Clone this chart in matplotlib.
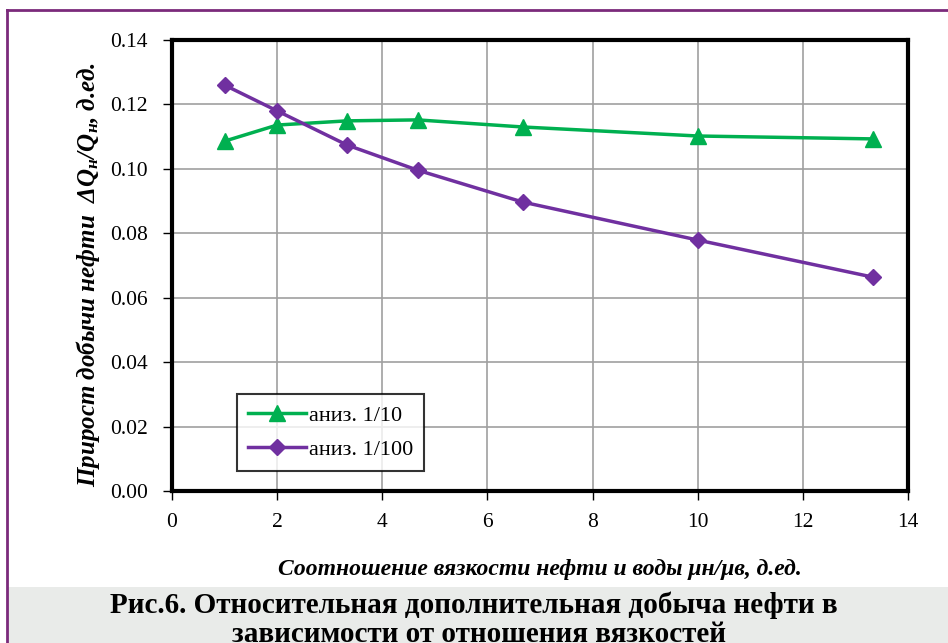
import matplotlib
matplotlib.use("Agg")
import matplotlib.pyplot as plt
from matplotlib.patches import Rectangle
from matplotlib.lines import Line2D

x_vals = [1, 2, 3.33, 4.67, 6.67, 10, 13.33]
aniz_10 = [0.1086, 0.1136, 0.1149, 0.1152, 0.1130, 0.1102, 0.1093]
aniz_100 = [0.1260, 0.1180, 0.1074, 0.0996, 0.0897, 0.0779, 0.0664]
labels = ["аниз. 1/10", "аниз. 1/100"]
x_ticks = [0, 2, 4, 6, 8, 10, 12, 14]
y_ticks = [0.00, 0.02, 0.04, 0.06, 0.08, 0.10, 0.12, 0.14]

plt.rcParams['font.family'] = ['Liberation Serif', 'DejaVu Serif']
plt.rcParams['mathtext.fontset'] = 'custom'
plt.rcParams['mathtext.it'] = 'Liberation Serif:italic:bold'
plt.rcParams['mathtext.rm'] = 'Liberation Serif:bold'
plt.rcParams['mathtext.bf'] = 'Liberation Serif:bold'

W, H = 948, 643
fig = plt.figure(figsize=(W / 100, H / 100), dpi=100)

# background panels
fig.patches.append(Rectangle((8 / W, 0), 1 - 8 / W, (H - 587) / H,
                             transform=fig.transFigure, facecolor='#e9ebe9',
                             edgecolor='none', zorder=0))
fig.lines.append(Line2D([7 / W, 7 / W], [0, 1 - 10 / H], transform=fig.transFigure,
                        color='#7b2a7b', lw=2))
fig.lines.append(Line2D([7 / W, 1], [1 - 10 / H, 1 - 10 / H], transform=fig.transFigure,
                        color='#7b2a7b', lw=2))

ax = fig.add_axes([172 / W, 1 - 491 / H, (908 - 172) / W, (491 - 40) / H])
ax.plot(x_vals, aniz_10, color='#00b050', lw=2.5, marker='^', markersize=11,
        label=labels[0], zorder=3)
ax.plot(x_vals, aniz_100, color='#7030a0', lw=2.5, marker='D', markersize=8,
        label=labels[1], zorder=3)

ax.set_xlim(0, 14)
ax.set_ylim(0, 0.14)
ax.set_xticks(x_ticks)
ax.set_yticks(y_ticks)
ax.set_yticklabels([f"{v:.2f}" for v in y_ticks])
ax.grid(True, color='#a0a0a0', lw=1.2)
ax.set_axisbelow(True)
for s in ax.spines.values():
    s.set_linewidth(3)
    s.set_color('black')
ax.tick_params(axis='both', labelsize=15.5, direction='out', length=6.5, width=1,
               color='black')
ax.tick_params(axis='x', pad=9)
ax.tick_params(axis='y', pad=11)

ax.set_xlabel("Соотношение вязкости нефти и воды μн/μв, д.ед.", fontsize=17,
              style='italic', fontweight='bold', labelpad=20)
ax.set_ylabel("Прирост добычи нефти  ΔQ$_{н}$/Q$_{н}$, д.ед.", fontsize=18,
              style='italic', fontweight='bold', va='center')
ax.yaxis.set_label_coords(-0.114, 0.48)

leg = ax.legend(loc='lower left', bbox_to_anchor=(0.088, 0.045), fontsize=16,
                frameon=True, fancybox=False, edgecolor='black',
                handlelength=2.6, borderpad=0.5, labelspacing=0.6, handletextpad=0.15,
                borderaxespad=0)
leg.get_frame().set_linewidth(1.5)

fig.text(0.5, 1 - 605 / H, "Рис.6. Относительная дополнительная добыча нефти в",
         ha='center', va='center', fontsize=21, fontweight='bold')
fig.text(0.505, 1 - 634 / H, "зависимости от отношения вязкостей",
         ha='center', va='center', fontsize=21, fontweight='bold')

fig.savefig("out.png", dpi=100)
